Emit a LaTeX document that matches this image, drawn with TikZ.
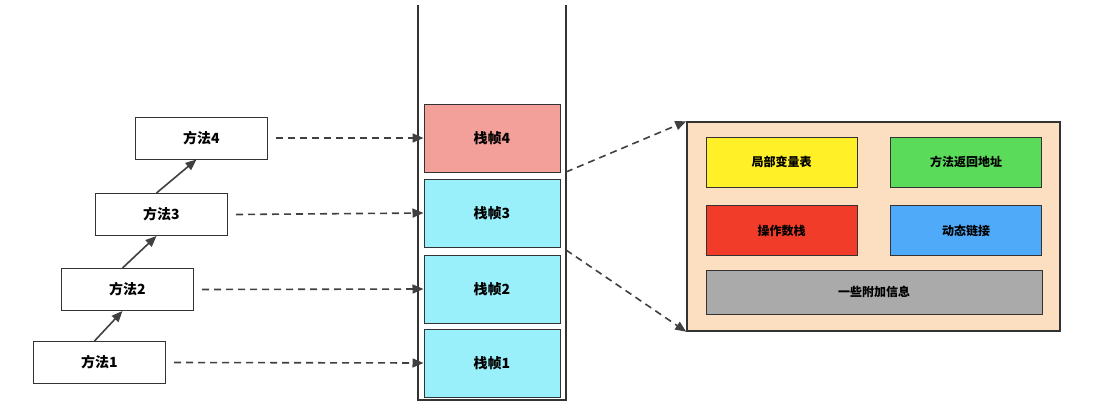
\documentclass[tikz,border=0pt]{standalone}
\usepackage{fontspec}
\setmainfont{Noto Sans CJK SC}
\usetikzlibrary{arrows.meta}
\begin{document}
\begin{tikzpicture}[x=1pt,y=-1pt,
  meth/.style={draw=black!80,line width=1pt,fill=white,minimum width=132pt,minimum height=42pt,font=\bfseries\fontsize{14}{14}\selectfont},
  frame/.style={draw=black!80,line width=1pt,minimum width=136pt,minimum height=68pt,font=\bfseries\fontsize{14}{14}\selectfont},
  inner/.style={draw=black!80,line width=1pt,minimum width=151pt,minimum height=50pt,font=\bfseries\fontsize{12}{12}\selectfont},
  arr/.style={-{Triangle[length=11pt,width=9pt]},line width=1.6pt,black!75},
  darr/.style={arr,dashed,dash pattern=on 7pt off 5pt}]
\useasboundingbox (0,0) rectangle (1112,410);
\node[meth] (m1) at (99.5,362.5) {方法1};
\node[meth] (m2) at (127.5,289.5) {方法2};
\node[meth] (m3) at (161.5,214.5) {方法3};
\node[meth] (m4) at (201.5,138) {方法4};
\draw[arr] ([xshift=-5pt]m1.north) -- ([xshift=-5pt]m2.south);
\draw[arr] ([xshift=-5pt]m2.north) -- ([xshift=-5pt]m3.south);
\draw[arr] ([xshift=-5pt]m3.north) -- ([xshift=-5pt]m4.south);
\draw[black!80,line width=1.5pt] (418,5) -- (418,400) -- (566,400) -- (566,5);
\node[frame,fill={rgb,255:red,244;green,160;blue,154}] (f4) at (492,138) {栈帧4};
\node[frame,fill={rgb,255:red,153;green,240;blue,250}] (f3) at (492,213) {栈帧3};
\node[frame,fill={rgb,255:red,153;green,240;blue,250}] (f2) at (492,289) {栈帧2};
\node[frame,fill={rgb,255:red,153;green,240;blue,250}] (f1) at (492,363) {栈帧1};
\draw[darr] (m4.east) ++(8,0) -- (f4.west);
\draw[darr] (m3.east) ++(8,0) -- (f3.west);
\draw[darr] (m2.east) ++(8,0) -- (f2.west);
\draw[darr] (m1.east) ++(8,0) -- (f1.west);
\node[draw=black!80,line width=1.5pt,fill={rgb,255:red,252;green,222;blue,192},minimum width=373pt,minimum height=209pt] (p) at (873.5,226.5) {};
\draw[darr] (566,172) -- (p.north west);
\draw[darr] (566,250) -- (p.south west);
\node[inner,fill={rgb,255:red,255;green,240;blue,40}] at (781.5,162) {局部变量表};
\node[inner,fill={rgb,255:red,90;green,220;blue,90}] at (966,162) {方法返回地址};
\node[inner,fill={rgb,255:red,240;green,60;blue,40}] at (781.5,230.5) {操作数栈};
\node[inner,fill={rgb,255:red,80;green,170;blue,250}] at (966,230.5) {动态链接};
\node[inner,fill={rgb,255:red,170;green,170;blue,170},minimum width=336pt,minimum height=44pt] at (874,292) {一些附加信息};
\end{tikzpicture}
\end{document}
